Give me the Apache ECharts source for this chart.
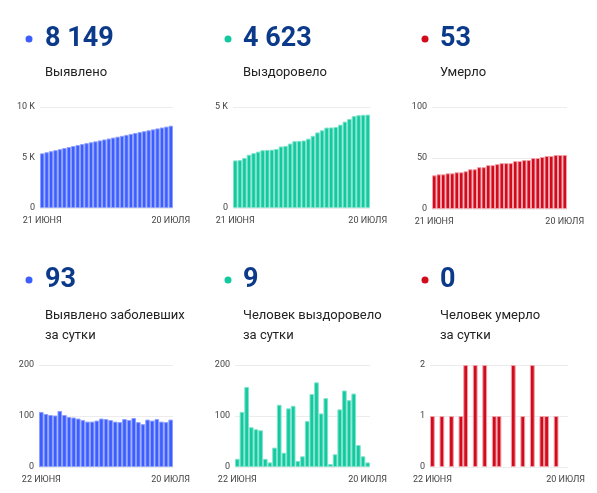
<!DOCTYPE html>
<html><head><meta charset="utf-8">
<script src="https://cdn.jsdelivr.net/npm/echarts@6/dist/echarts.min.js"></script>
<style>html,body{margin:0;padding:0;background:#fff}#c{width:597px;height:493px}</style>
</head><body><div id="c"></div>
<script>
const cumDates = ['21 ИЮНЯ','22 ИЮНЯ','23 ИЮНЯ','24 ИЮНЯ','25 ИЮНЯ','26 ИЮНЯ','27 ИЮНЯ','28 ИЮНЯ','29 ИЮНЯ','30 ИЮНЯ',
  '1 ИЮЛЯ','2 ИЮЛЯ','3 ИЮЛЯ','4 ИЮЛЯ','5 ИЮЛЯ','6 ИЮЛЯ','7 ИЮЛЯ','8 ИЮЛЯ','9 ИЮЛЯ','10 ИЮЛЯ',
  '11 ИЮЛЯ','12 ИЮЛЯ','13 ИЮЛЯ','14 ИЮЛЯ','15 ИЮЛЯ','16 ИЮЛЯ','17 ИЮЛЯ','18 ИЮЛЯ','19 ИЮЛЯ','20 ИЮЛЯ'];
const dailyDates = cumDates.slice(1);

const confirmedTotal = [5411,5519,5623,5725,5826,5936,6038,6136,6233,6328,6420,6509,6598,6689,6784,6878,6970,7059,7147,7241,7333,7429,7517,7601,7694,7785,7879,7968,8056,8149];
const recoveredTotal = [2356,2372,2480,2637,2715,2789,2861,2877,2886,2924,3046,3074,3189,3309,3321,3342,3432,3575,3741,3846,3981,3987,4012,4125,4275,4406,4550,4593,4614,4623];
const deathsTotal = [33,34,34,35,35,36,36,37,39,39,41,41,43,43,44,45,45,45,47,47,48,48,50,50,51,52,52,53,53,53];

const confirmedDaily = [108,104,102,101,110,102,98,97,95,92,89,89,91,95,94,92,89,88,94,92,96,88,84,93,91,94,89,88,93];
const recoveredDaily = [16,108,157,78,74,72,16,9,38,122,28,115,120,12,21,90,143,166,105,135,6,25,113,150,131,144,43,21,9];
const deathsDaily = [1,0,1,0,1,0,1,2,0,2,0,2,0,1,1,0,0,2,0,1,0,2,0,1,1,0,1,0,0];

const headlineValues = ['8 149','4 623','53','93','9','0'];
const headlineLabels = [['Выявлено'],['Выздоровело'],['Умерло'],
  ['Выявлено заболевших','за сутки'],['Человек выздоровело','за сутки'],['Человек умерло','за сутки']];

const yMax = [10000,5000,100,200,200,2];
const yInterval = [5000,5000,50,100,100,1];

const BLUE='#3d5eff', GREEN='#13c9a0', RED='#d10a1c';
const colors=[BLUE,GREEN,RED,BLUE,GREEN,RED];
const borders=['#8ea0ff','#7fe3cb','#f0a0a8','#8ea0ff','#7fe3cb','#f0a0a8'];
const grids=[
  {left:40,top:107,width:133,height:101},
  {left:233,top:107,width:137,height:101},
  {left:432,top:107,width:135,height:102},
  {left:39,top:365,width:134,height:102},
  {left:235,top:365,width:135,height:102},
  {left:430,top:365,width:138,height:102}
];
const seriesData=[confirmedTotal,recoveredTotal,deathsTotal,confirmedDaily,recoveredDaily,deathsDaily];
const cats=[cumDates,cumDates,cumDates,dailyDates,dailyDates,dailyDates];

const colX=[45,243,440], dotX=[29,228,425];
const rowNumY=[38,279], rowLabelY=[73,316];
const graphics=[];
for(let i=0;i<6;i++){
  const c=i%3, r=Math.floor(i/3);
  graphics.push({type:'circle',shape:{cx:dotX[c],cy:rowNumY[r]+1,r:3.5},style:{fill:colors[i]},silent:true});
  graphics.push({type:'text',x:colX[c],y:rowNumY[r]+1,style:{text:headlineValues[i],fontFamily:'Roboto',fontWeight:'bold',fontSize:27,fill:'#0c3a8b',verticalAlign:'middle'}});
  headlineLabels[i].forEach((t,k)=>{
    graphics.push({type:'text',x:colX[c],y:rowLabelY[r]+k*20,style:{text:t,fontFamily:'Roboto',fontSize:13,fill:'#222',verticalAlign:'middle'}});
  });
}

const fmtK=v=>v===0?'0':(v/1000)+' K';
const option={
  animation:false,
  grid:grids,
  xAxis:grids.map((g,i)=>({type:'category',gridIndex:i,data:cats[i],boundaryGap:true,
    axisLine:{show:false},axisTick:{show:false},
    axisLabel:{interval:(idx)=>idx===0||idx===cats[i].length-1,fontSize:9,color:'#444',fontFamily:'Roboto',margin:8}})),
  yAxis:grids.map((g,i)=>({type:'value',gridIndex:i,min:0,max:yMax[i],interval:yInterval[i],
    axisLine:{show:false},axisTick:{show:false},
    splitLine:{lineStyle:{color:'#ececec',width:1}},
    axisLabel:{fontSize:9,color:'#444',fontFamily:'Roboto',margin:5,formatter:i<2?fmtK:null}})),
  series:seriesData.map((d,i)=>({type:'bar',xAxisIndex:i,yAxisIndex:i,
    data:d.map(v=>v===0?{value:v,itemStyle:{borderWidth:0}}:v),barCategoryGap:'0%',
    itemStyle:{color:colors[i],borderColor:borders[i],borderWidth:1}})),
  graphic:graphics
};
const chart=echarts.init(document.getElementById('c'),null,{renderer:'canvas'});
chart.setOption(option);
</script></body></html>
